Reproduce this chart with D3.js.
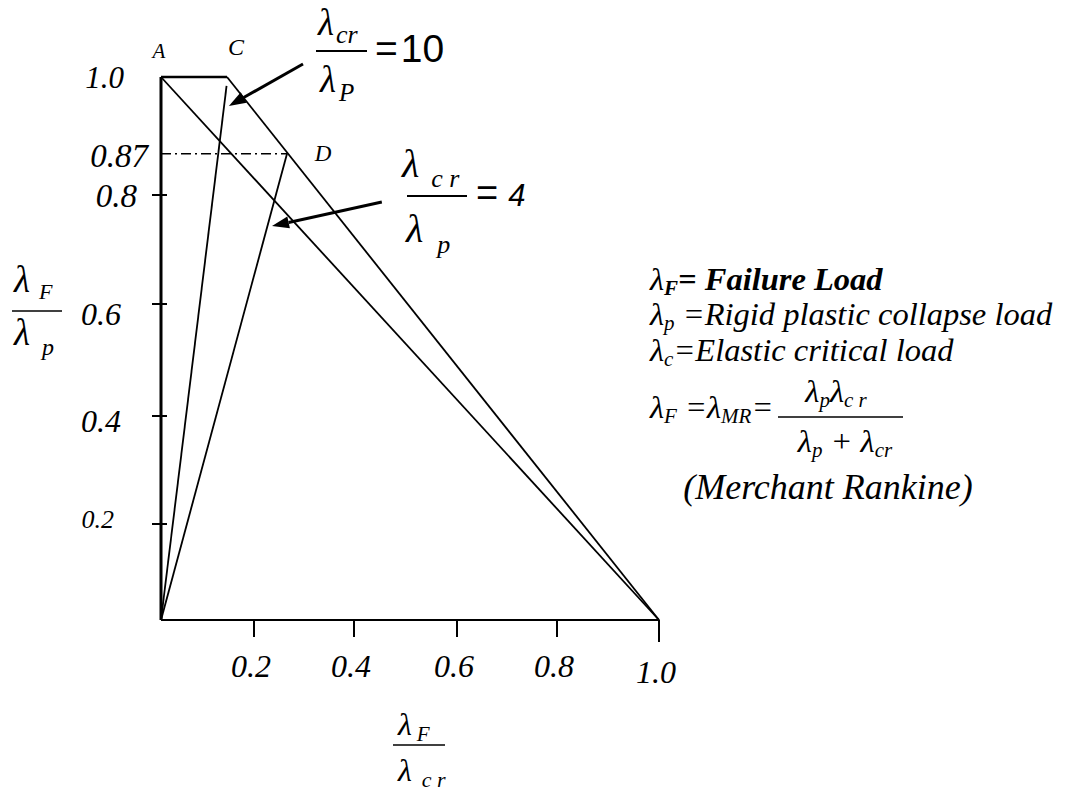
<!DOCTYPE html>
<html>
<head>
<meta charset="utf-8">
<script src="https://cdn.jsdelivr.net/npm/d3@7"></script>
<style>
  html, body { margin: 0; padding: 0; background: #fff; }
  svg { display: block; }
</style>
</head>
<body>
<svg id="chart" width="1069" height="791"></svg>
<script>
// Axis ticks (λF/λcr horizontally, λF/λp vertically)
const xTicks = [0.2, 0.4, 0.6, 0.8, 1.0];
const xTickLabels = ["0.2", "0.4", "0.6", "0.8", "1.0"];
const yTicks = [0.2, 0.4, 0.6, 0.8];
const yTickLabels = ["0.2", "0.4", "0.6", "0.8"];
const yExtraValues = [1.0, 0.87];
const yExtraLabels = ["1.0", "0.87"];

// Key points of the interaction diagram (x = λF/λcr, y = λF/λp)
const origin = [0, 0];
const pointA = [0, 1.0];
const pointC = [0.142, 1.0];
const pointD = [0.266, 0.87];
const pointE = [1.0, 0];          // elastic buckling end
const ratio10End = [0.141, 0.985]; // λcr/λp = 10 ray
const level087 = [0, 0.87];

// Annotation arrows: [tail, tip]
const arrow10 = [[0.298, 1.022], [0.146, 0.951]];
const arrow4 = [[0.454, 0.787], [0.236, 0.743]];

const svg = d3.select("#chart");
const SERIF = "Liberation Serif";
const SANS = "Liberation Sans";

// Hand-calibrated axes (tick spacing is not uniform on the drawing)
const x = d3.scaleLinear().domain([0, 0.2, 0.4, 0.6, 0.8, 1.0]).range([161, 254, 354, 457, 557, 659]);
const y = d3.scaleLinear().domain([0, 0.2, 0.4, 0.6, 0.8, 1.0]).range([620, 524, 416, 304, 195, 77]);

const line = d3.line().x(d => x(d[0])).y(d => y(d[1]));

function seg(pts, w, extra) {
  const p = svg.append("path").attr("d", line(pts))
    .attr("fill", "none").attr("stroke", "#000").attr("stroke-width", w)
    .attr("stroke-linecap", "butt");
  if (extra) extra(p);
  return p;
}

function label(txt, px, py, fs, anchor, family, fstyle) {
  return svg.append("text").attr("x", px).attr("y", py).attr("text-anchor", anchor || "middle")
    .style("font-family", family || SERIF).style("font-style", fstyle || "italic")
    .style("font-size", fs + "px").text(txt);
}

// Axes
seg([origin, pointE], 2);
seg([origin, pointA], 3);

// x ticks
xTicks.forEach((v, i) => {
  svg.append("line")
    .attr("x1", x(v)).attr("x2", x(v))
    .attr("y1", y(0)).attr("y2", y(0) + (v === 1 ? 22 : 17))
    .attr("stroke", "#000").attr("stroke-width", 2);
  label(xTickLabels[i], x(v) - 3, y(0) + (v === 1 ? 63 : 57), 32);
});

// y ticks
yTicks.forEach(v => {
  svg.append("line")
    .attr("x1", x(0) - 9).attr("x2", x(0) + 6)
    .attr("y1", y(v)).attr("y2", y(v))
    .attr("stroke", "#000").attr("stroke-width", 2);
});
const yLabelPos = { "0.2": [114, 528, 26], "0.4": [121, 432, 32], "0.6": [121, 325, 32], "0.8": [137, 207, 33] };
yTickLabels.forEach(l => {
  const [px, py, fs] = yLabelPos[l];
  label(l, px, py, fs, "end");
});
label(yExtraLabels[0], 124, y(yExtraValues[0]) + 11, 31, "end");
label(yExtraLabels[1], 148, y(yExtraValues[1]) + 13, 33, "end");

// Plastic limit A–C
seg([pointA, pointC], 2.5);
// Merchant–Rankine line A–E and modified line C–E
seg([pointA, pointE], 1.8);
seg([pointC, pointE], 1.8);
// Load paths for λcr/λp = 10 and 4
seg([origin, ratio10End], 1.8);
seg([origin, pointD], 1.8);
// 0.87 level
seg([level087, pointD], 1.6, p => p.attr("stroke-dasharray", "10,4,2,4"));

// Point letters
label("A", x(pointA[0]) - 2, y(pointA[1]) - 19, 21);
label("C", x(pointC[0]) + 9, y(pointC[1]) - 22, 24);
label("D", x(pointD[0]) + 36, y(pointD[1]) + 7, 23);

// Arrows
function arrow(a, headLen, headW, w) {
  const [tx, ty] = [x(a[0][0]), y(a[0][1])];
  const [hx, hy] = [x(a[1][0]), y(a[1][1])];
  const ang = Math.atan2(hy - ty, hx - tx);
  const bx = hx - headLen * Math.cos(ang), by = hy - headLen * Math.sin(ang);
  svg.append("line").attr("x1", tx).attr("y1", ty).attr("x2", bx).attr("y2", by)
    .attr("stroke", "#000").attr("stroke-width", w);
  const nx = -Math.sin(ang) * headW / 2, ny = Math.cos(ang) * headW / 2;
  svg.append("path")
    .attr("d", `M${hx},${hy}L${bx + nx},${by + ny}L${bx - nx},${by - ny}Z`)
    .attr("fill", "#000");
}
arrow(arrow10, 17, 12, 3);
arrow(arrow4, 17, 12, 3);

// Text with subscripts
function rich(px, py, parts, size, opts = {}) {
  const t = svg.append("text").attr("x", px).attr("y", py)
    .attr("text-anchor", opts.anchor || "start")
    .style("font-family", opts.family || SERIF)
    .style("font-style", opts.style || "italic")
    .style("font-size", size + "px");
  let shift = 0;
  parts.forEach(p => {
    const ts = t.append("tspan").text(p.t);
    const target = p.sub || 0;
    if (target !== shift) ts.attr("dy", target - shift);
    shift = target;
    if (p.size) ts.style("font-size", p.size + "px");
    if (p.dx) ts.attr("dx", p.dx);
    if (p.weight) ts.style("font-weight", p.weight);
    if (p.family) ts.style("font-family", p.family);
    if (p.style) ts.style("font-style", p.style);
  });
  return t;
}
function bar(x1, x2, yy, w = 1.5) {
  svg.append("line").attr("x1", x1).attr("x2", x2).attr("y1", yy).attr("y2", yy)
    .attr("stroke", "#000").attr("stroke-width", w);
}

// Y axis title λF / λp
rich(14, 292, [{ t: "λ" }, { t: "F", sub: 7, size: 22, dx: 9 }], 37);
bar(12, 62, 311);
rich(14, 345, [{ t: "λ" }, { t: "p", sub: 10, size: 24, dx: 12 }], 37);

// X axis title λF / λcr
rich(398, 735, [{ t: "λ" }, { t: "F", sub: 6, size: 21, dx: 5 }], 32);
bar(393, 445, 745);
rich(398, 781, [{ t: "λ" }, { t: "c r", sub: 6, size: 22, dx: 10 }], 32);

// λcr/λP = 10
rich(318, 35, [{ t: "λ" }, { t: "cr", sub: 8, size: 26, dx: 2 }], 37);
bar(316, 367, 51, 2);
rich(320, 92, [{ t: "λ" }, { t: "P", sub: 9, size: 25, dx: 3 }], 37);
rich(375, 62, [{ t: "=" }, { t: "10", dx: 3 }], 39, { family: SANS, style: "normal" });

// λcr/λp = 4
rich(402, 177, [{ t: "λ" }, { t: "c r", sub: 10, size: 26, dx: 12 }], 40);
bar(407, 467, 196, 2);
rich(406, 242, [{ t: "λ" }, { t: "p", sub: 11, size: 26, dx: 14 }], 40);
rich(476, 206, [{ t: "=", style: "normal" }, { t: "4", size: 31, dx: 10 }], 38, { family: SANS });

// Legend block
const LS = 32.5;
rich(650, 290, [{ t: "λ" }, { t: "F", sub: 5, size: 21, weight: "bold" }, { t: "= Failure Load", weight: "bold" }], LS);
rich(650, 325, [{ t: "λ" }, { t: "p", sub: 5, size: 21 }, { t: " =Rigid plastic collapse load" }], LS);
rich(650, 361, [{ t: "λ" }, { t: "c", sub: 5, size: 21 }, { t: "=Elastic critical load" }], LS);
rich(650, 418, [{ t: "λ" }, { t: "F", sub: 5, size: 21 }, { t: " =λ" }, { t: "MR", sub: 5, size: 21 }, { t: "=" }], LS);
rich(836, 402, [{ t: "λ" }, { t: "p", sub: 5, size: 21 }, { t: "λ" }, { t: "c r", sub: 5, size: 21 }], LS, { anchor: "middle" });
bar(778, 903, 417, 1.5);
rich(845, 452, [{ t: "λ" }, { t: "p", sub: 5, size: 21 }, { t: " + λ" }, { t: "cr", sub: 5, size: 21 }], LS, { anchor: "middle" });
rich(828, 499, [{ t: "(Merchant Rankine)" }], 36, { anchor: "middle" });
</script>
</body>
</html>
